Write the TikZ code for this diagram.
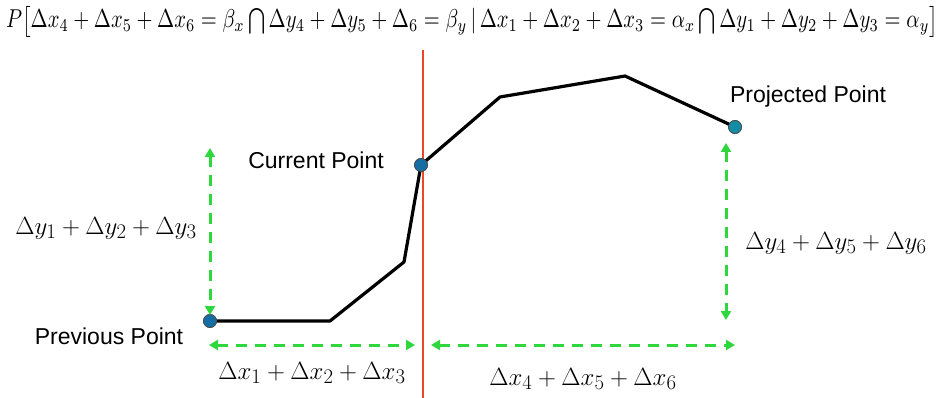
\documentclass[tikz,border=0pt]{standalone}
\usepackage{fontspec}
\setsansfont{Liberation Sans}
\usetikzlibrary{arrows.meta}
\definecolor{grn}{RGB}{45,215,60}
\definecolor{dotblue}{RGB}{20,110,165}
\definecolor{dotteal}{RGB}{20,140,165}
\definecolor{redline}{RGB}{235,70,40}
\tikzset{
  dot/.style={circle,draw=black!70,line width=0.8pt,inner sep=0pt,minimum size=13pt},
  lbl/.style={font=\sffamily\fontsize{23}{26}\selectfont,inner sep=0pt},
  mlbl/.style={font=\fontsize{29}{32}\selectfont,inner sep=0pt},
  garrow/.style={grn,line width=3pt,dash pattern=on 11pt off 8pt,{Triangle[length=9pt,width=10pt]}-{Triangle[length=9pt,width=10pt]}},
  curve/.style={line width=3.2pt,black,line join=round}
}
\begin{document}
\begin{tikzpicture}[x=1pt,y=-1pt]
\useasboundingbox (0,0) rectangle (944,398);
% formula
\node[inner sep=0pt] (formula) at (472,21.5) {\resizebox*{932pt}{31pt}{$P\bigl[\Delta x_4+\Delta x_5+\Delta x_6=\beta_x\bigcap\Delta y_4+\Delta y_5+\Delta_6=\beta_y\,|\,\Delta x_1+\Delta x_2+\Delta x_3=\alpha_x\bigcap\Delta y_1+\Delta y_2+\Delta y_3=\alpha_y\bigr]$}};
% red line
\coordinate (rtop) at (423,50);
\coordinate (rbot) at (423,398);
\draw[redline,line width=1.3pt] (rtop) -- (rbot);
% curve
\coordinate (p1) at (330,321);
\coordinate (p2) at (404,262);
\coordinate (p3) at (500,97);
\coordinate (p4) at (625,76);
\node[dot,fill=dotblue] (prev) at (210,321) {};
\node[dot,fill=dotblue] (cur) at (421,165) {};
\node[dot,fill=dotteal] (proj) at (735,127) {};
\draw[curve] (prev.center) -- (p1) -- (p2) -- (cur.center) -- (p3) -- (p4) -- (proj.center);
\node[dot,fill=dotblue] at (prev) {};
\node[dot,fill=dotblue] at (cur) {};
\node[dot,fill=dotteal] at (proj) {};
% green arrows
\coordinate (ly1) at (210,148);
\coordinate (ly2) at (210,315);
\draw[garrow] (ly1) -- (ly2);
\coordinate (lx1) at (209,345);
\coordinate (lx2) at (415,345);
\draw[garrow] (lx1) -- (lx2);
\coordinate (rx1) at (431,345);
\coordinate (rx2) at (735,345);
\draw[garrow] (rx1) -- (rx2);
\coordinate (ry1) at (726,143);
\coordinate (ry2) at (726,320);
\draw[garrow] (ry1) -- (ry2);
% labels
\node[lbl] (lcur) at (316,160) {Current Point};
\node[lbl] (lproj) at (808,97) {Projected Point};
\node[lbl] (lprev) at (109,336) {Previous Point};
\node[mlbl] (dyl) at (106,228) {$\Delta y_1+\Delta y_2+\Delta y_3$};
\node[mlbl] (dxl) at (312,373) {$\Delta x_1+\Delta x_2+\Delta x_3$};
\node[mlbl] (dxr) at (583,379) {$\Delta x_4+\Delta x_5+\Delta x_6$};
\node[mlbl] (dyr) at (836,243) {$\Delta y_4+\Delta y_5+\Delta y_6$};
\end{tikzpicture}
\end{document}
